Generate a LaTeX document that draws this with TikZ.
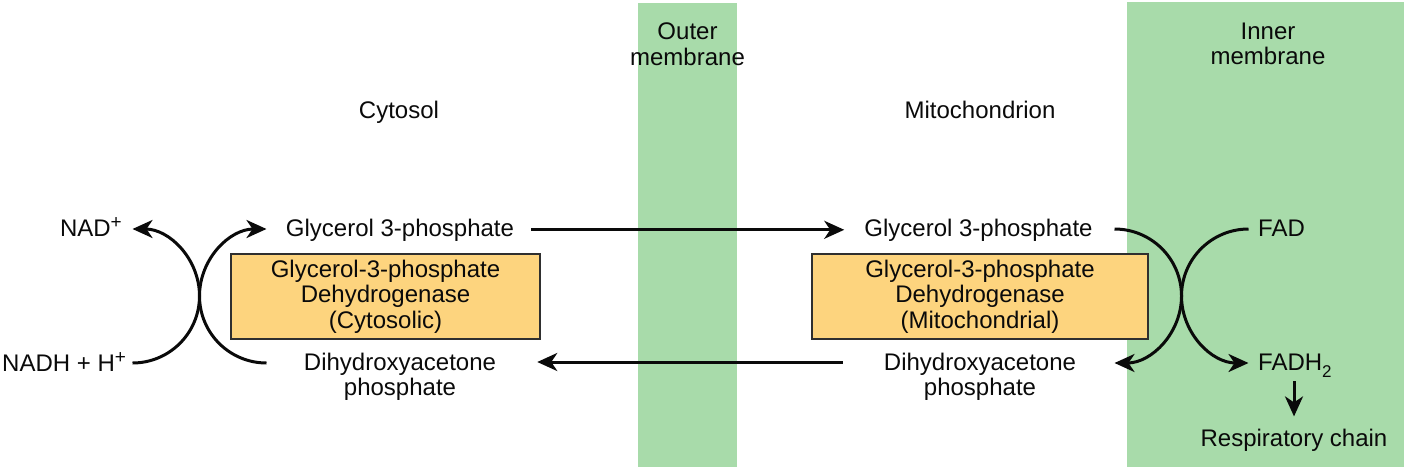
\documentclass[tikz,border=0pt]{standalone}
\usepackage{fontspec}
\setmainfont{Liberation Sans}
\usetikzlibrary{arrows.meta}
\definecolor{memgreen}{RGB}{168,219,170}
\definecolor{enzfill}{RGB}{253,212,126}
\definecolor{ink}{RGB}{10,10,10}
\newcommand{\supplus}{\raisebox{7.5pt}{\fontsize{19}{19}\selectfont +}}
\newcommand{\subtwo}{\raisebox{-7pt}{\fontsize{17}{17}\selectfont 2}}
\begin{document}
\begin{tikzpicture}[x=1pt,y=-1pt,
  lbl/.style={inner sep=0pt, font=\fontsize{24}{25.5}\selectfont, text=ink, align=center},
  enz/.style={lbl, draw=ink!85, line width=1.8pt, fill=enzfill, minimum height=85pt},
  mem/.style={fill=memgreen, draw=none},
  tipped/.style={-{Stealth[length=20pt,width=18pt,inset=6pt]}},
  arr/.style={line width=3pt, draw=ink, tipped},
  crv/.style={line width=3pt, draw=ink}
]
\useasboundingbox (0,0) rectangle (1405,469);
% membranes
\fill[mem] (638,3) rectangle (737,467);
\fill[mem] (1127,2) rectangle (1404,467);
% labels
\node[lbl] (outer) at (687.5,44) {Outer\\membrane};
\node[lbl] (inner) at (1268,44) {Inner\\membrane};
\node[lbl, anchor=base] (cyto) at (399,118) {Cytosol};
\node[lbl, anchor=base] (mito) at (980,118) {Mitochondrion};
\node[lbl, anchor=base] (g3pL) at (400,236) {Glycerol 3-phosphate};
\node[lbl, anchor=base] (g3pR) at (978.5,236) {Glycerol 3-phosphate};
\node[enz, minimum width=309pt] (enzL) at (385.5,296.5) {Glycerol-3-phosphate\\Dehydrogenase\\(Cytosolic)};
\node[enz, minimum width=336pt] (enzR) at (980,296.5) {Glycerol-3-phosphate\\Dehydrogenase\\(Mitochondrial)};
\node[lbl] (dhapL) at (400,377) {Dihydroxyacetone\\phosphate};
\node[lbl] (dhapR) at (980,377) {Dihydroxyacetone\\phosphate};
\node[lbl, anchor=base east] (nad) at (122,236) {NAD\supplus};
\node[lbl, anchor=base west] (nadh) at (2,371) {NADH + H\supplus};
\node[lbl, anchor=base west] (fad) at (1258,236) {FAD};
\node[lbl, anchor=base west] (fadh) at (1258,370) {FADH\subtwo};
\node[lbl, anchor=base] (resp) at (1294,446) {Respiratory chain};
% curve end points
\coordinate (aS) at (132.5,363);
\coordinate (aE) at (132.5,229);
\coordinate (bS) at (266.5,363);
\coordinate (bE) at (266.5,229);
\coordinate (cS) at (1114.5,229);
\coordinate (cE) at (1114.5,363);
\coordinate (dS) at (1248.5,229);
\coordinate (dE) at (1248.5,363);
% straight arrows
\draw[arr] ([xshift=17pt]g3pL.east) -- ([xshift=-20pt]g3pR.west);
\draw[arr] ([xshift=-41pt,yshift=15pt]dhapR.west) -- ([xshift=41pt,yshift=15pt]dhapL.east);
\draw[arr, shorten <=4pt, shorten >=12pt] (resp.north |- fadh.south) -- (resp.north);
% curved arrows
\draw[crv, tipped] (aS) .. controls +(37,0) and +(0,37) .. (199.5,296) .. controls +(0,-37) and +(37,0) .. (aE);
\draw[crv, tipped] (bS) .. controls +(-37,0) and +(0,37) .. (199.5,296) .. controls +(0,-37) and +(-37,0) .. (bE);
\draw[crv, tipped] (cS) .. controls +(37,0) and +(0,-37) .. (1181.5,296) .. controls +(0,37) and +(37,0) .. (cE);
\draw[crv, tipped] (dS) .. controls +(-37,0) and +(0,-37) .. (1181.5,296) .. controls +(0,37) and +(-37,0) .. (dE);
\end{tikzpicture}
\end{document}
